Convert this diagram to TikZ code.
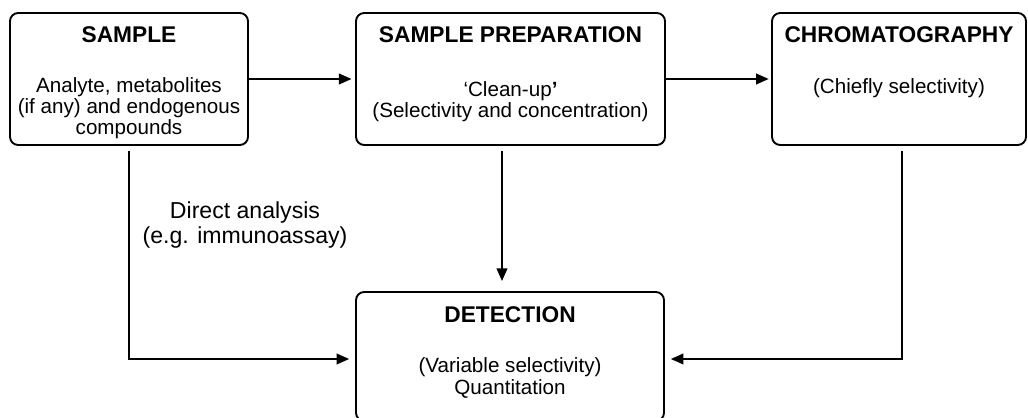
\documentclass[tikz,border=0pt]{standalone}
\usepackage{fontspec}
\setmainfont{Liberation Sans}
\usetikzlibrary{arrows.meta}

\begin{document}
\begin{tikzpicture}[font=\fontsize{17.6pt}{18pt}\selectfont,
    box/.style={draw,line width=1.6pt,rounded corners=7pt,inner sep=0pt},
    head/.style={font=\fontsize{19.4pt}{20pt}\selectfont\bfseries},
    body/.style={align=center},
    arr/.style={line width=1.6pt,-{Triangle[length=.38cm,width=.32cm]}}]
    \clip (0,0) rectangle (30.84,12.54);
    % boxes
    \node[box,minimum width=7.14cm,minimum height=3.96cm] (sample) at (3.87,10.17) {};
    \node[box,minimum width=9.27cm,minimum height=3.96cm] (prep) at (15.315,10.17) {};
    \node[box,minimum width=7.62cm,minimum height=3.96cm] (chrom) at (26.97,10.17) {};
    \node[box,minimum width=9.24cm,minimum height=3.87cm] (detect) at (15.3,1.845) {};
    % texts
    \node[head] (sampleT) at (3.87,11.49) {SAMPLE};
    \node[body] (sampleB) at (3.87,9.3) {Analyte, metabolites\\(if any) and endogenous\\compounds};
    \node[head] (prepT) at (15.315,11.49) {SAMPLE PREPARATION};
    \node[body] (prepB) at (15.315,9.495) {‘Clean-up\textbf{’}\\(Selectivity and concentration)};
    \node[head] (chromT) at (26.97,11.49) {CHROMATOGRAPHY};
    \node[body] (chromB) at (26.97,9.9) {(Chiefly selectivity)};
    \node[head] (detectT) at (15.3,3.09) {DETECTION};
    \node[body] (detectB) at (15.3,1.2) {(Variable selectivity)\\Quantitation};
    \node[body,font=\fontsize{19.7pt}{21.3pt}\selectfont] (direct) at (7.35,5.775) {Direct analysis\\(e.g. immunoassay)};
    % connectors
    \coordinate (low) at (0,1.77);
    \draw[arr,shorten >=3pt] (sample.east) -- (prep.west);
    \draw[arr,shorten >=2pt] (prep.east) -- (chrom.west);
    \draw[arr,shorten <=4pt,shorten >=.3cm] ([xshift=-.255cm]prep.south) -- ([xshift=-.255cm]prep.south |- detect.north);
    \draw[arr,shorten <=4pt,shorten >=5pt] (sample.south) |- (detect.west |- low);
    \draw[arr,shorten <=4pt,shorten >=5pt] ([xshift=.09cm]chrom.south) |- (detect.east |- low);
  \end{tikzpicture}
\end{document}
